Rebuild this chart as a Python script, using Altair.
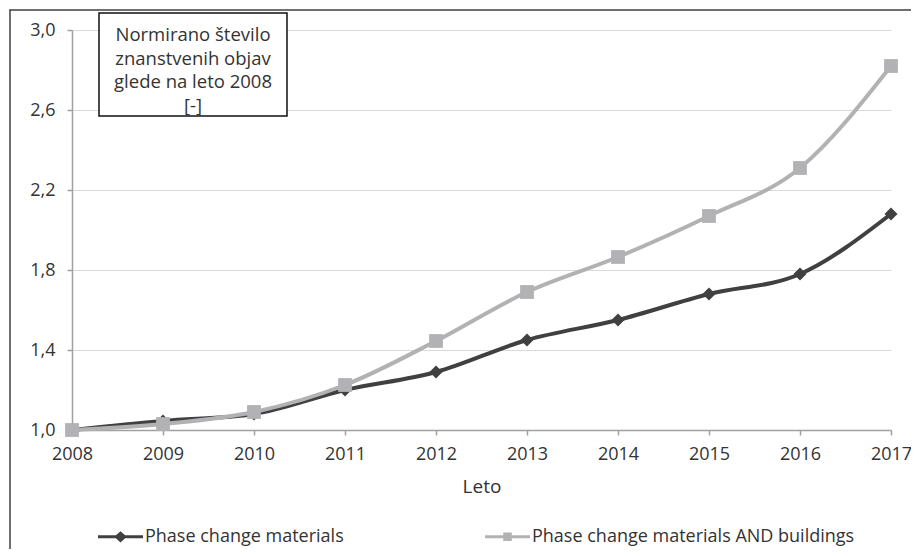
import altair as alt
import pandas as pd

years = [2008, 2009, 2010, 2011, 2012, 2013, 2014, 2015, 2016, 2017]
pcm = [1.0, 1.045, 1.08, 1.20, 1.29, 1.45, 1.55, 1.68, 1.78, 2.08]
pcm_buildings = [1.0, 1.03, 1.09, 1.225, 1.445, 1.69, 1.865, 2.07, 2.31, 2.82]
series_names = ["Phase change materials", "Phase change materials AND buildings"]
series_colors = ["#404040", "#b2b2b4"]
y_ticks = [1.0, 1.4, 1.8, 2.2, 2.6, 3.0]
title_lines = ["Normirano število", "znanstvenih objav", "glede na leto 2008", "[-]"]
x_title = "Leto"

FONT = "Open Sans"
TXT = "#333333"
W, H = 819, 400

rows = []
for name, vals in zip(series_names, [pcm, pcm_buildings]):
    for yr, v in zip(years, vals):
        rows.append({"year": yr, "value": v, "series": name})
df = pd.DataFrame(rows)

x_enc = alt.X("year:Q",
              scale=alt.Scale(domain=[years[0], years[-1]], nice=False, zero=False),
              axis=alt.Axis(values=years, format="d", title=x_title, grid=False,
                            labelFlush=False, tickSize=5, labelPadding=10,
                            labelFont=FONT, labelFontSize=18, labelColor=TXT,
                            titleFont=FONT, titleFontSize=19, titleColor=TXT,
                            titleFontWeight="normal", titlePadding=14))
y_enc = alt.Y("value:Q",
              scale=alt.Scale(domain=[1.0, 3.0], nice=False, zero=False),
              axis=alt.Axis(values=y_ticks, title=None, grid=True, tickSize=5,
                            labelPadding=12,
                            labelFont=FONT, labelFontSize=18, labelColor=TXT,
                            labelExpr="replace(format(datum.value, '.1f'), '.', ',')"))

base = alt.Chart(df)
markers = ["diamond", "square"]
msizes = [170, 190]
layers = []
for name, col, mk, ms in zip(series_names, series_colors, markers, msizes):
    sub = base.transform_filter(alt.datum.series == name)
    layers.append(sub.mark_line(color=col, strokeWidth=4, interpolate="monotone")
                  .encode(x=x_enc, y=y_enc))
    layers.append(sub.mark_point(color=col, filled=True, shape=mk, size=ms, opacity=1)
                  .encode(x=x_enc, y=y_enc))

legend_paths = [
    "M-1,-0.065H1V0.065H-1Z M-0.28,0L0,-0.25L0.28,0L0,0.25Z",
    "M-1,-0.065H1V0.065H-1Z M-0.19,-0.19H0.19V0.19H-0.19Z",
]
leg = alt.Legend(title=None, orient="none", legendX=26, legendY=484,
                 direction="horizontal", symbolSize=2025,
                 symbolStrokeWidth=0, symbolOpacity=1,
                 labelOffset=2, columnPadding=141, labelLimit=600,
                 labelFont=FONT, labelFontSize=18, labelColor=TXT)
legend_layer = base.mark_point(filled=True, opacity=0).encode(
    x=x_enc, y=y_enc,
    color=alt.Color("series:N", scale=alt.Scale(domain=series_names, range=series_colors),
                    legend=leg),
    shape=alt.Shape("series:N", scale=alt.Scale(domain=series_names, range=legend_paths),
                    legend=leg),
)

one = alt.Data(values=[{"k": 1}])
border_left = alt.Chart(one).mark_rule(color="#404040", strokeWidth=1.5).encode(
    x=alt.value(-62), y=alt.value(-20.5), y2=alt.value(H + 200))
border_top = alt.Chart(one).mark_rule(color="#404040", strokeWidth=1.5).encode(
    x=alt.value(-62.5), x2=alt.value(W + 200), y=alt.value(-20))
box = alt.Chart(one).mark_rect(fill="white", stroke="#111111", strokeWidth=1.5).encode(
    x=alt.value(27), x2=alt.value(215), y=alt.value(-17), y2=alt.value(86))
box_text = alt.Chart(one).mark_text(font=FONT, fontSize=18.5, color=TXT, align="center",
                                    baseline="top", lineHeight=23.7).encode(
    x=alt.value(121), y=alt.value(-4), text=alt.value(title_lines))

chart = alt.layer(border_left, border_top, *layers, legend_layer, box, box_text).properties(
    width=W, height=H,
    autosize=alt.AutoSizeParams(type="none"),
    padding={"left": 64, "top": 22, "right": 20, "bottom": 119},
).configure_view(stroke=None).configure_axis(
    domainColor="#a0a0a0", tickColor="#a0a0a0", gridColor="#d9d9d9",
    domainWidth=1.5, tickWidth=1.5, gridWidth=1.2,
)

chart.save("out.html", embed_options={"renderer": "svg", "actions": False})
